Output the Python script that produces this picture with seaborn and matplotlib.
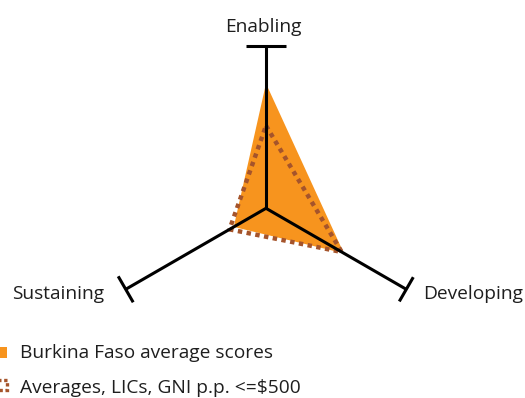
import numpy as np
import pandas as pd
import matplotlib
matplotlib.use("Agg")
import matplotlib.pyplot as plt
from matplotlib.patches import Rectangle
import seaborn as sns

# Pillar names and scores (axis max = 1)
pillars = ["Enabling", "Developing", "Sustaining"]
burkina_scores = [0.77, 0.555, 0.23]
lic_scores = [0.51, 0.54, 0.26]
series_labels = ["Burkina Faso average scores", "Averages, LICs, GNI p.p. <=$500"]

ORANGE = "#F7941E"
BROWN = "#A5542B"
TEXT = "#1E1E1E"

sns.set_theme(style="white")
plt.rcParams["font.family"] = ["Open Sans", "DejaVu Sans"]

W, H = 525, 398
fig = plt.figure(figsize=(W / 100, H / 100), dpi=100)

# Polar axes: centre at (266, 208) px, radius 162 px
cx, cy, R = 266, 208.3, 162
ax = fig.add_axes([(cx - R) / W, (H - cy - R) / H, 2 * R / W, 2 * R / H],
                  projection="polar")
ax.set_theta_zero_location("N")
ax.set_theta_direction(-1)
ax.set_ylim(0, 1)
ax.grid(False)
ax.set_xticks([])
ax.set_yticks([])
ax.spines["polar"].set_visible(False)
ax.patch.set_alpha(0)

theta = np.arange(len(pillars)) * 2 * np.pi / len(pillars)
theta_closed = np.append(theta, theta[0] + 2 * np.pi)

df = pd.DataFrame({
    "theta": theta_closed,
    "burkina": burkina_scores + burkina_scores[:1],
    "lic": lic_scores + lic_scores[:1],
})

# Country profile: filled area
ax.fill(df["theta"], df["burkina"], color=ORANGE, lw=0, zorder=2)

# Income-group average: dotted outline
sns.lineplot(data=df, x="theta", y="lic", sort=False, estimator=None, ax=ax,
             color=BROWN, linewidth=3.2, linestyle=(0, (1, 1)),
             dash_capstyle="butt", zorder=3)
ax.set_xlabel("")
ax.set_ylabel("")

# Axis spokes with end caps
cap_half = [20 / R, 14 / R, 15 / R]
for t, hw in zip(theta, cap_half):
    ax.plot([t, t], [0, 1], color="black", lw=2.2, zorder=4,
            solid_capstyle="butt", clip_on=False)
    rc = np.hypot(1, hw)
    dt = np.arctan(hw)
    ax.plot([t - dt, t + dt], [rc, rc], color="black", lw=2.2, zorder=4,
            solid_capstyle="butt", clip_on=False)

# Pillar labels
fs = 13.8
fig.text(263 / W, 1 - 31.5 / H, pillars[0], ha="center", va="baseline",
         fontsize=fs, color=TEXT)
fig.text(423 / W, 1 - 299.3 / H, pillars[1], ha="left", va="baseline",
         fontsize=fs, color=TEXT)
fig.text(104 / W, 1 - 299.3 / H, pillars[2], ha="right", va="baseline",
         fontsize=fs, color=TEXT)

# Legend
fig.patches.append(Rectangle((-4 / W, 1 - 357.7 / H), 11 / W, 11 / H,
                             transform=fig.transFigure, facecolor=ORANGE,
                             edgecolor="none"))
fig.patches.append(Rectangle((-3 / W, 1 - 389.5 / H), 9.5 / W, 10 / H,
                             transform=fig.transFigure, facecolor="none",
                             edgecolor=BROWN, lw=2.4, linestyle=(0, (1, 0.8))))
fig.text(20.5 / W, 1 - 357.7 / H, series_labels[0], ha="left", va="baseline",
         fontsize=fs, color=TEXT)
fig.text(20 / W, 1 - 393 / H, series_labels[1], ha="left", va="baseline",
         fontsize=fs, color=TEXT)

fig.savefig("out.png", dpi=100)
